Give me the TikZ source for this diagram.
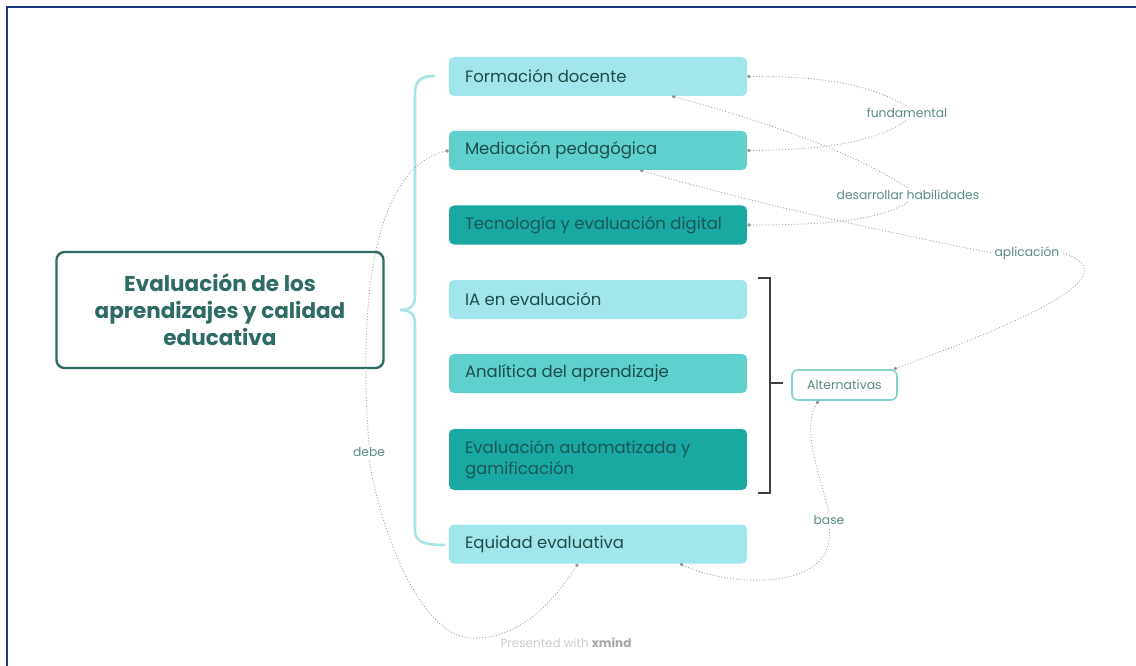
\documentclass[tikz,border=0pt]{standalone}
\usepackage{fontspec}
\setmainfont{Poppins}
\usetikzlibrary{arrows.meta,calc}
\definecolor{frameblue}{HTML}{1B3A7A}
\definecolor{boxlight}{HTML}{A0E6EA}
\definecolor{boxmid}{HTML}{5FD0CC}
\definecolor{boxdark}{HTML}{19A9A2}
\definecolor{txtdark}{HTML}{1D4D4A}
\definecolor{txtdarkbox}{HTML}{1B5853}
\definecolor{maincol}{HTML}{2E6B64}
\definecolor{bracecol}{HTML}{A8E4E4}
\definecolor{conncol}{HTML}{A0A0A0}
\definecolor{labcol}{HTML}{5B8A88}
\definecolor{altcol}{HTML}{86D2CE}
\tikzset{
  x=1pt,y=-1pt,
  topicbox/.style={rectangle,rounded corners=5pt,minimum width=298pt,text width=266pt,inner xsep=16pt,align=flush left,font=\fontsize{16.5}{21}\selectfont,text=txtdark},
  lightbox/.style={topicbox,fill=boxlight,minimum height=39pt},
  midbox/.style={topicbox,fill=boxmid,minimum height=39pt},
  darkbox/.style={topicbox,fill=boxdark,minimum height=39pt,text=txtdarkbox},
  lab/.style={font=\fontsize{12.3}{14}\selectfont,text=labcol,inner sep=2pt},
  conn/.style={draw=conncol,line width=0.9pt,dotted},
  dotend/.style={conn,{Circle[length=3.5pt,fill=gray!70!black]}-},
}
\begin{document}
\begin{tikzpicture}
\useasboundingbox (0,0) rectangle (1136,666);
\fill[white] (0,0) rectangle (1136,666);
\draw[frameblue,line width=2pt] (7,680) -- (7,7) -- (1150,7);

% brace
\draw[bracecol,line width=2.6pt,line cap=round]
  (434,76) .. controls (421,76) and (415,81) .. (415,93)
  -- (415,296) .. controls (415,306) and (410,310) .. (400,310)
  .. controls (410,310) and (415,314) .. (415,324)
  -- (415,530) .. controls (415,540) and (421,545) .. (444,545);

% main topic
\node[draw=maincol,line width=2.4pt,rounded corners=8pt,minimum width=327pt,minimum height=116pt,
  align=center,text=maincol,font=\fontsize{21.5}{27}\selectfont\bfseries] (main) at (220,310)
  {Evaluación de los\\aprendizajes y calidad\\educativa};

% subtopics
\node[lightbox] (f) at (598,76.5) {Formación docente};
\node[midbox]   (m) at (598,150.5) {Mediación pedagógica};
\node[darkbox]  (t) at (598,225) {Tecnología y evaluación digital};
\node[lightbox] (ia) at (598,299.5) {IA en evaluación};
\node[midbox]   (an) at (598,373.5) {Analítica del aprendizaje};
\node[darkbox,minimum height=61pt] (ev) at (598,459.5) {Evaluación automatizada y\\gamificación};
\node[lightbox] (e) at (598,544) {Equidad evaluativa};

% bracket
\draw[black!75,line width=1.5pt] (758,278) -- (770,278) -- (770,493) -- (758,493);
\coordinate (brk) at (770,383);
\draw[black!75,line width=1.5pt] (brk) -- ++(13,0);

\node[draw=altcol,line width=1.6pt,fill=white,rounded corners=6pt,minimum width=105pt,minimum height=30pt,
  font=\fontsize{12.5}{14}\selectfont,text=labcol] (alt) at (844.5,385) {Alternativas};

% labels
\node[lab] (fund) at (907,113) {fundamental};
\node[lab] (des) at (908,195) {desarrollar habilidades};
\node[lab] (apl) at (1027,253) {aplicación};
\node[lab] (debe) at (369,452) {debe};
\node[lab] (base) at (829,520) {base};

% connectors
\draw[dotend] (f.east) .. controls (830,76) and (870,86) .. (fund.north);
\draw[dotend] (m.east) .. controls (830,150) and (880,140) .. (fund.south);

\draw[dotend] ([xshift=74pt]f.south) .. controls (760,120) and (850,150) .. (des.north);
\draw[dotend] (t.east) .. controls (830,225) and (880,220) .. (des.south);

\draw[dotend] ([xshift=42pt]m.south) .. controls (760,205) and (900,235) .. (apl.west);
\draw[dotend] ([xshift=-4pt]alt.north east) .. controls (1000,330) and (1140,275) .. (apl.east);

\draw[dotend] (m.west) .. controls (365,170) and (360,330) .. (debe.north);
\draw[dotend] ([xshift=-20pt]e.south) .. controls (545,615) and (510,640) .. (470,638)
  .. controls (420,635) and (380,530) .. (debe.south);

\draw[dotend] ([xshift=-26pt]alt.south) .. controls (800,430) and (822,480) .. (base.north);
\draw[dotend] ([xshift=82pt]e.south) .. controls (730,588) and (838,592) .. (base.south);

% footer
\node[font=\fontsize{12}{14}\selectfont,text=black!20] (foot) at (566,643) {Presented with \textcolor{black!35}{\bfseries xmind}};
\end{tikzpicture}
\end{document}
